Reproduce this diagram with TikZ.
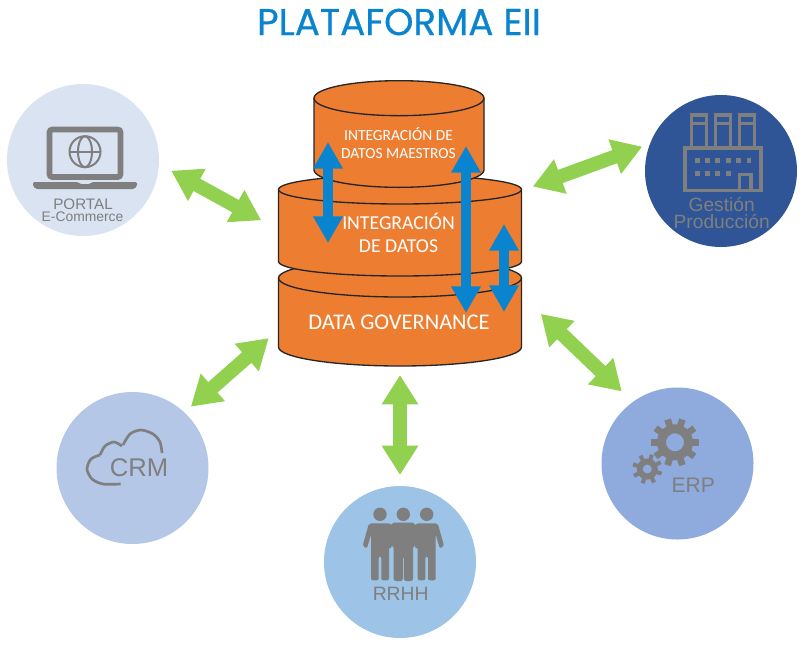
\documentclass[tikz,border=0pt]{standalone}
\usepackage{fontspec}
\setmainfont{Liberation Sans}
\newfontfamily\titlefont[FakeBold=0.6]{Poppins}
\newfontfamily\stackfont{Carlito}
\usepackage{xcolor}
\usetikzlibrary{arrows.meta}

\definecolor{titleblue}{HTML}{0A84CE}
\definecolor{stackorange}{HTML}{ED7D31}
\definecolor{linkgreen}{HTML}{92D050}
\definecolor{icongray}{HTML}{7F7F7F}
\definecolor{portalfill}{HTML}{D9E3F2}
\definecolor{prodfill}{HTML}{2F5597}
\definecolor{erpfill}{HTML}{8FAADC}
\definecolor{rrhhfill}{HTML}{9DC3E6}
\definecolor{crmfill}{HTML}{B4C7E7}

% disc outline around a named box: node, half width, end radius
\newcommand{\stackdisc}[3]{
    \draw[stackline] ([shift={(0,#3)}]#1.north west) -- ([shift={(0,-#3)}]#1.south west) arc (180:0:#2 and #3) -- ([shift={(0,#3)}]#1.north east) arc (0:-180:#2 and #3) -- cycle;
    \draw[stackline] ([shift={(0,#3)}]#1.north west) arc (180:0:#2 and #3);
}

\begin{document}
\begin{tikzpicture}[
    x=.75pt, y=-.75pt,
    system/.style={circle, minimum size=114pt, inner sep=0pt, outer sep=0pt},
    icontext/.style={text=icongray, align=center, inner sep=0pt},
    stack/.style={rectangle, inner sep=0pt, outer sep=0pt},
    stackline/.style={draw=black!85, line width=1pt, fill=stackorange, line join=round},
    stacktext/.style={text=white, align=center, inner sep=0pt, font=\stackfont},
    link/.style={{Triangle[length=22pt,width=26pt]}-{Triangle[length=22pt,width=26pt]}, line width=10.5pt, draw=linkgreen},
    flow/.style={{Triangle[length=20pt,width=21pt]}-{Triangle[length=20pt,width=21pt]}, line width=7.5pt, draw=titleblue},
    icon/.style={draw=icongray, line width=2pt},
    person/.pic={
        \fill[icongray] (0,0) circle (6.7);
        \fill[icongray, rounded corners=1.5pt, pic actions] (-11,9) -- (11,9) -- (17.5,32) -- (13,34) -- (9,20) -- (9,66) -- (1.3,66) -- (1.3,42) -- (-1.3,42) -- (-1.3,66) -- (-9,66) -- (-9,20) -- (-13,34) -- (-17.5,32) -- cycle;
    }
]
\useasboundingbox (0,0) rectangle (807,647);

\node[font=\titlefont\fontsize{28}{28}\selectfont, text=titleblue] (title) at (399,22) {PLATAFORMA EII};

% Central stack, drawn bottom to top
\node[stack, minimum width=182.25pt, minimum height=80.25pt] (governance) at (400,312.5) {};
\stackdisc{governance}{121.5}{19}
\node[stack, minimum width=182.25pt, minimum height=75.75pt] (integration) at (400,225.5) {};
\stackdisc{integration}{121.5}{14.5}
\node[stack, minimum width=127.5pt, minimum height=80pt] (masters) at (399,134) {};
\stackdisc{masters}{85}{17.5}

% Systems around the stack
\node[system, fill=portalfill] (portal) at (83,160) {};
\node[system, fill=prodfill] (production) at (721,171) {};
\node[system, fill=erpfill] (erp) at (677.5,463.5) {};
\node[system, fill=rrhhfill] (rrhh) at (400,562) {};
\node[system, fill=crmfill] (crm) at (132.5,468) {};

% Green links
\draw[link, shorten <=10.5pt, shorten >=14.8pt] (portal.-3) -- (integration.182.8);
\draw[link, shorten <=9pt, shorten >=6.2pt] (integration.16.4) -- (production.159.4);
\draw[link, shorten <=20pt, shorten >=11.5pt] (governance.8.5) -- (erp.126.8);
\draw[link, shorten <=6.75pt, shorten >=8.25pt] (governance.south) -- (rrhh.north);
\draw[link, shorten <=9.75pt, shorten >=6.5pt] (governance.188.3) -- (crm.47.9);

% Blue flows inside the stack
\coordinate (flowa) at (328,142);
\coordinate (flowb) at (328,243);
\coordinate (flowc) at (466,146);
\coordinate (flowd) at (466,313);
\coordinate (flowe) at (504,224);
\coordinate (flowf) at (504,312);
\draw[flow] (flowa) -- (flowb);
\draw[flow] (flowc) -- (flowd);
\draw[flow] (flowe) -- (flowf);

% Stack labels
\node[stacktext, font=\stackfont\fontsize{11.6}{13.5}\selectfont] (masterslabel) at (398.5,143) {INTEGRACIÓN DE\\DATOS MAESTROS};
\node[stacktext, font=\stackfont\fontsize{14.8}{17.5}\selectfont] (integrationlabel) at (398.5,232.5) {INTEGRACIÓN\\DE DATOS};
\node[stacktext, font=\stackfont\fontsize{16.8}{17}\selectfont] (governancelabel) at (399,322) {DATA GOVERNANCE};

% Portal icon
\draw[icon, line width=4.2pt, rounded corners=2pt, fill=portalfill] (49.5,129.5) rectangle (120.5,177);
\fill[icongray, rounded corners=1pt] (33,182) -- (78,182) -- (80,184) -- (90,184) -- (92,182) -- (137,182) -- (137,186) -- (134,189) -- (36,189) -- (33,186) -- cycle;
\draw[icon, line width=1.5pt] (85,151.7) circle (15.5);
\draw[icon, line width=1.5pt] (85,151.7) ellipse (7 and 15.5);
\draw[icon, line width=1.5pt] (69.5,151.7) -- (100.5,151.7);
\node[icontext, font=\fontsize{11.4}{11.4}\selectfont] (portallabel) at (83,204) {PORTAL};
\node[icontext, font=\fontsize{10.4}{10.4}\selectfont] (ecommercelabel) at (82.5,216.7) {E-Commerce};

% Production icon
\foreach \tx in {690,714,738}
    \draw[icon, line width=2.5pt] (\tx+1.7,146.7) -- (\tx+1.7,115) -- (\tx+16.2,115) -- (\tx+16.2,146.7) (\tx+1.7,123.5) -- (\tx+16.2,123.5);
\draw[icon, line width=2.5pt] (685,148) rectangle (761,190.5);
\draw[icon, line width=2.5pt] (739.5,190.5) -- (739.5,174.5) -- (751,174.5) -- (751,190.5);
\foreach \wx in {697.3,707.7,717.7,728.3,738.7,749}
    \fill[icongray] (\wx-2.4,158.2) rectangle (\wx+2.4,163.2);
\foreach \wx in {697.3,707.7,717.7,728.3}
    \fill[icongray] (\wx-2.4,170.8) rectangle (\wx+2.4,175.8);
\node[icontext, font=\fontsize{14.4}{13.2}\selectfont] (productionlabel) at (721.7,213) {Gestión\\Producción};

% ERP icon
\draw[icongray, line width=6.7pt] (675,442.3) circle (13.5);
\foreach \a in {0,36,...,324}
    \draw[icongray, line width=5pt] (675,442.3) ++(\a:17) -- ++(\a:7);
\draw[icongray, line width=4.5pt] (647.3,469) circle (7.5);
\foreach \a in {18,63,...,333}
    \draw[icongray, line width=3pt] (647.3,469) ++(\a:10) -- ++(\a:5);
\node[icontext, font=\fontsize{15.8}{15.8}\selectfont] (erplabel) at (693.3,485) {ERP};

% RRHH icon
\pic at (380,514.3) {person};
\pic at (426.7,514.3) {person};
\pic[draw=rrhhfill, line width=1.2pt] at (403.3,514.3) {person};
\node[icontext, font=\fontsize{14.5}{14.5}\selectfont] (rrhhlabel) at (400.7,594.3) {RRHH};

% CRM icon
\draw[icon] plot[smooth] coordinates {(120.7,484) (103,484) (92,479) (87,469) (91,459) (100,455)};
\draw[icon] plot[smooth] coordinates {(100,455) (105,446) (114,442) (122,446)};
\draw[icon] plot[smooth] coordinates {(123,445) (130,434) (141,430) (153,434) (160,442) (162,453)};
\node[icontext, font=\fontsize{19.2}{19.2}\selectfont] (crmlabel) at (139,467.7) {CRM};

\end{tikzpicture}
\end{document}
